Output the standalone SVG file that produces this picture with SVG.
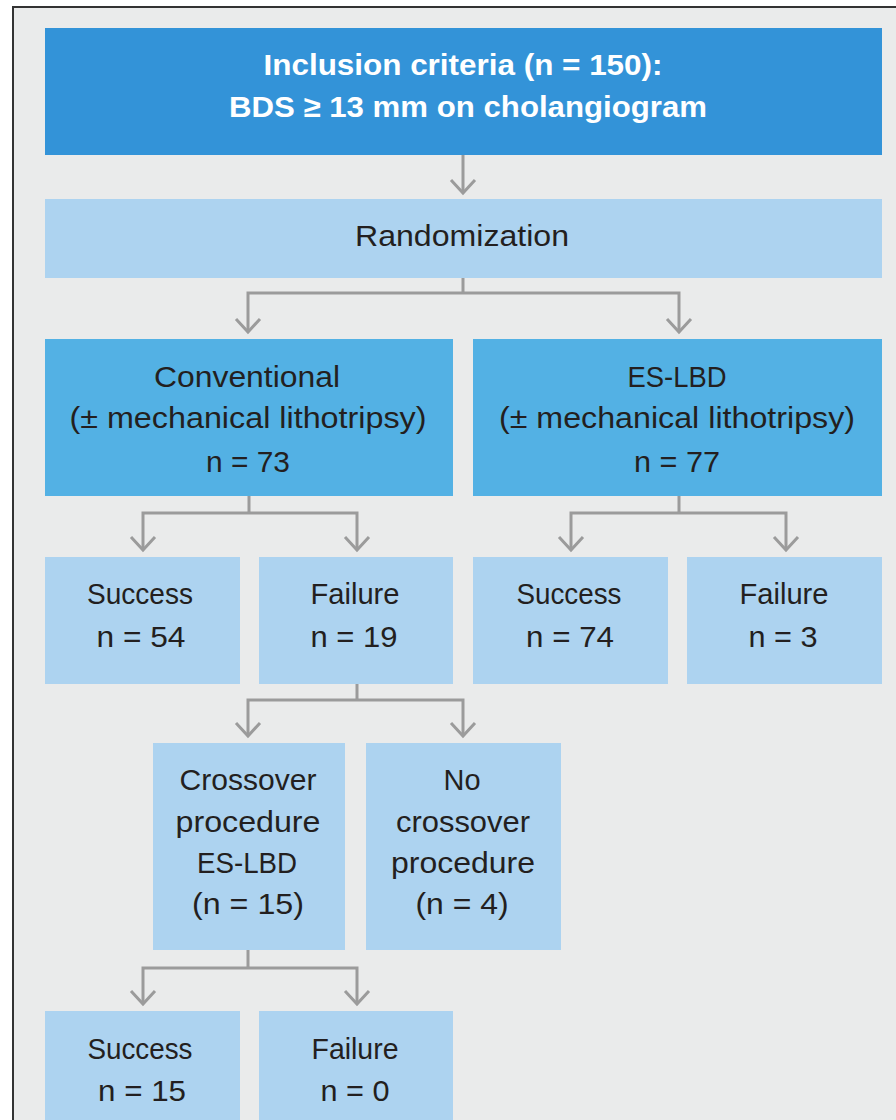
<svg xmlns="http://www.w3.org/2000/svg" width="896" height="1120" viewBox="0 0 896 1120">
<defs>
<style>
.bg{fill:#eaebeb;stroke:#333;stroke-width:2}
.dark{fill:#3393d8}
.mid{fill:#53b1e4}
.light{fill:#add3f0}
text{font-family:"Liberation Sans",Arial,sans-serif;font-size:30px;text-anchor:middle;fill:#231f20}
.w{fill:#fff;font-weight:bold}
.c{fill:none;stroke:#9b9b9b;stroke-width:3}
</style>
</defs>
<rect x="0" y="0" width="896" height="1120" fill="#fff"/>
<rect class="bg" x="13" y="7" width="900" height="1200"/>
<g id="connectors">
<path class="c" d="M463,155 V193"/>
<path class="c" d="M451,180 L463,193 L475,180"/>
<path class="c" d="M463,278 V293 M248,332 V293 H679 V332"/>
<path class="c" d="M236,319 L248,332 L260,319 M667,319 L679,332 L691,319"/>
<path class="c" d="M249,496 V513 M143,550 V513 H357 V550"/>
<path class="c" d="M131,537 L143,550 L155,537 M345,537 L357,550 L369,537"/>
<path class="c" d="M679,496 V513 M571,550 V513 H786 V550"/>
<path class="c" d="M559,537 L571,550 L583,537 M774,537 L786,550 L798,537"/>
<path class="c" d="M357,684 V700 M248,736 V700 H463 V736"/>
<path class="c" d="M236,723 L248,736 L260,723 M451,723 L463,736 L475,723"/>
<path class="c" d="M248,950 V968 M143,1004 V968 H357 V1004"/>
<path class="c" d="M131,991 L143,1004 L155,991 M345,991 L357,1004 L369,991"/>
</g>
<g id="inclusion">
<rect class="dark" x="45" y="28" width="837" height="127"/>
<text class="w" x="463" y="75" textLength="399" lengthAdjust="spacingAndGlyphs">Inclusion criteria (n = 150):</text>
<text class="w" x="468" y="117" textLength="478" lengthAdjust="spacingAndGlyphs">BDS ≥ 13 mm on cholangiogram</text>
</g>
<g id="randomization">
<rect class="light" x="45" y="199" width="837" height="79"/>
<text x="462" y="246" textLength="214" lengthAdjust="spacingAndGlyphs">Randomization</text>
</g>
<g id="conventional">
<rect class="mid" x="45" y="339" width="408" height="157"/>
<text x="247" y="387" textLength="186" lengthAdjust="spacingAndGlyphs">Conventional</text>
<text x="248" y="428" textLength="357" lengthAdjust="spacingAndGlyphs">(± mechanical lithotripsy)</text>
<text x="248" y="472" textLength="84" lengthAdjust="spacingAndGlyphs">n = 73</text>
</g>
<g id="eslbd">
<rect class="mid" x="473" y="339" width="409" height="157"/>
<text x="677" y="387" textLength="99" lengthAdjust="spacingAndGlyphs">ES-LBD</text>
<text x="677" y="428" textLength="356" lengthAdjust="spacingAndGlyphs">(± mechanical lithotripsy)</text>
<text x="677" y="472" textLength="86" lengthAdjust="spacingAndGlyphs">n = 77</text>
</g>
<g id="conv-success">
<rect class="light" x="45" y="557" width="195" height="127"/>
<text x="140" y="604" textLength="106" lengthAdjust="spacingAndGlyphs">Success</text>
<text x="141" y="647" textLength="89" lengthAdjust="spacingAndGlyphs">n = 54</text>
</g>
<g id="conv-failure">
<rect class="light" x="259" y="557" width="194" height="127"/>
<text x="355" y="604" textLength="89" lengthAdjust="spacingAndGlyphs">Failure</text>
<text x="354" y="647" textLength="87" lengthAdjust="spacingAndGlyphs">n = 19</text>
</g>
<g id="es-success">
<rect class="light" x="473" y="557" width="195" height="127"/>
<text x="569" y="604" textLength="105" lengthAdjust="spacingAndGlyphs">Success</text>
<text x="570" y="647" textLength="88" lengthAdjust="spacingAndGlyphs">n = 74</text>
</g>
<g id="es-failure">
<rect class="light" x="687" y="557" width="195" height="127"/>
<text x="784" y="604" textLength="89" lengthAdjust="spacingAndGlyphs">Failure</text>
<text x="783" y="647" textLength="69" lengthAdjust="spacingAndGlyphs">n = 3</text>
</g>
<g id="crossover">
<rect class="light" x="153" y="743" width="192" height="207"/>
<text x="248" y="790" textLength="137" lengthAdjust="spacingAndGlyphs">Crossover</text>
<text x="248" y="832" textLength="145" lengthAdjust="spacingAndGlyphs">procedure</text>
<text x="247" y="873" textLength="100" lengthAdjust="spacingAndGlyphs">ES-LBD</text>
<text x="248" y="914" textLength="112" lengthAdjust="spacingAndGlyphs">(n = 15)</text>
</g>
<g id="no-crossover">
<rect class="light" x="366" y="743" width="195" height="207"/>
<text x="462" y="790" textLength="37" lengthAdjust="spacingAndGlyphs">No</text>
<text x="463" y="832" textLength="134" lengthAdjust="spacingAndGlyphs">crossover</text>
<text x="463" y="873" textLength="144" lengthAdjust="spacingAndGlyphs">procedure</text>
<text x="462" y="914" textLength="93" lengthAdjust="spacingAndGlyphs">(n = 4)</text>
</g>
<g id="cross-success">
<rect class="light" x="45" y="1011" width="195" height="120"/>
<text x="140" y="1059" textLength="105" lengthAdjust="spacingAndGlyphs">Success</text>
<text x="142" y="1101" textLength="88" lengthAdjust="spacingAndGlyphs">n = 15</text>
</g>
<g id="cross-failure">
<rect class="light" x="259" y="1011" width="194" height="120"/>
<text x="355" y="1059" textLength="87" lengthAdjust="spacingAndGlyphs">Failure</text>
<text x="355" y="1101" textLength="69" lengthAdjust="spacingAndGlyphs">n = 0</text>
</g>
</svg>
